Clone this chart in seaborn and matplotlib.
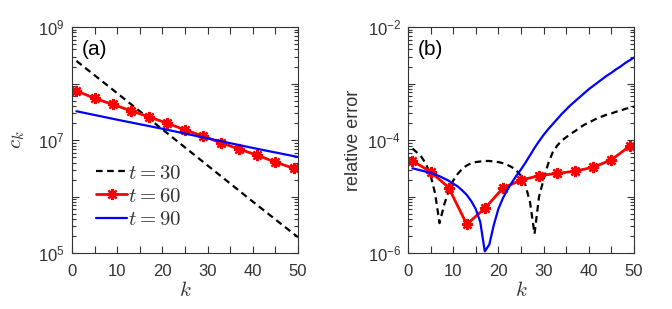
import numpy as np
import pandas as pd
import matplotlib
matplotlib.use('Agg')
import matplotlib.pyplot as plt
import matplotlib.ticker as mticker
import seaborn as sns

# %%
# panel (a): c_k as log10 values
k_a = [1, 10, 20, 30, 40, 50]
ck_t30 = [8.40, 7.83, 7.19, 6.55, 5.91, 5.28]
ck_t90 = [7.51, 7.36, 7.20, 7.03, 6.86, 6.70]
k_red = [1, 5, 9, 13, 17, 21, 25, 29, 33, 37, 41, 45, 49]
ck_t60 = [7.87, 7.74, 7.63, 7.52, 7.41, 7.30, 7.18, 7.07, 6.95, 6.84, 6.73, 6.61, 6.50]

# panel (b): relative error, log10 values
k_b = list(range(1, 51))
err_t30 = [-4.15, -4.22, -4.30, -4.42, -4.62, -4.94, -5.47, -5.15, -4.90, -4.72,
           -4.60, -4.51, -4.45, -4.41, -4.39, -4.38, -4.37, -4.37, -4.38, -4.39,
           -4.41, -4.44, -4.48, -4.54, -4.63, -4.80, -5.10, -5.66, -5.00, -4.70,
           -4.42, -4.22, -4.10, -4.01, -3.95, -3.89, -3.84, -3.78, -3.73, -3.69,
           -3.65, -3.61, -3.58, -3.55, -3.53, -3.50, -3.48, -3.45, -3.43, -3.41]
err_t90 = [-4.50, -4.52, -4.54, -4.56, -4.58, -4.61, -4.64, -4.68, -4.72, -4.77,
           -4.82, -4.89, -4.97, -5.08, -5.22, -5.45, -5.97, -5.85, -5.50, -5.22,
           -5.03, -4.88, -4.75, -4.63, -4.52, -4.40, -4.27, -4.14, -4.02, -3.91,
           -3.81, -3.72, -3.63, -3.54, -3.46, -3.38, -3.31, -3.24, -3.17, -3.10,
           -3.04, -2.98, -2.92, -2.86, -2.81, -2.75, -2.70, -2.64, -2.59, -2.54]
err_t60 = [-4.37, -4.56, -4.84, -5.49, -5.21, -4.85, -4.71, -4.63, -4.59, -4.55,
           -4.48, -4.35, -4.11]

labels = [r'$t = 30$', r'$t = 60$', r'$t = 90$']

# %%
sns.set_style('ticks')
plt.rcParams['font.family'] = ['Liberation Sans', 'DejaVu Sans']
plt.rcParams['mathtext.fontset'] = 'cm'
plt.rcParams['xtick.direction'] = 'in'
plt.rcParams['ytick.direction'] = 'in'

grey = '#333333'
star = (8, 2, 0)  # asterisk marker like MATLAB '*'
fig = plt.figure(figsize=(6.72, 3.09), dpi=100)
ax1 = fig.add_axes([0.107, 0.181, 0.3365, 0.7316])
ax2 = fig.add_axes([0.607, 0.181, 0.3365, 0.7316])


def log_label(v, pos):
    e = int(round(np.log10(v)))
    if e % 2 != 0:
        return ''
    return r'$\mathregular{10^{%d}}$' % e


def log_label_odd(v, pos):
    e = int(round(np.log10(v)))
    if e % 2 == 0:
        return ''
    return r'$\mathregular{10^{%d}}$' % e


def style(ax, ylim, fmt):
    ax.set_yscale('log')
    ax.set_xlim(0, 50)
    ax.set_ylim(*ylim)
    ax.xaxis.set_major_locator(mticker.MultipleLocator(10))
    ax.xaxis.set_minor_locator(mticker.MultipleLocator(5))
    ax.yaxis.set_major_locator(mticker.LogLocator(base=10, numticks=20))
    ax.yaxis.set_minor_locator(mticker.LogLocator(base=10, subs=np.arange(2, 10), numticks=20))
    ax.yaxis.set_major_formatter(mticker.FuncFormatter(fmt))
    ax.yaxis.set_minor_formatter(mticker.NullFormatter())
    ax.tick_params(which='both', top=True, right=True, colors=grey, labelsize=12, width=0.8)
    ax.tick_params(which='major', length=5)
    ax.tick_params(which='minor', length=3)
    ax.tick_params(axis='x', which='both', length=5, pad=8)
    ax.tick_params(axis='y', which='both', pad=5)
    for s in ax.spines.values():
        s.set_color(grey)
        s.set_linewidth(0.8)
    ax.set_xlabel(r'$k$', fontsize=15, color=grey, labelpad=1)


def fix_markers(ax, idx):
    ln = ax.lines[idx]
    ln.set_marker(star)
    ln.set_markersize(8)
    ln.set_markeredgewidth(1.7)
    ln.set_markeredgecolor('#ff0000')


# (a)
sns.lineplot(x=k_a, y=10 ** np.array(ck_t30), ax=ax1, color='black', lw=1.6,
             linestyle=(0, (3, 2)), label=labels[0])
sns.lineplot(x=k_red, y=10 ** np.array(ck_t60), ax=ax1, color='#ff0000', lw=2,
             marker='o', label=labels[1])
sns.lineplot(x=k_a, y=10 ** np.array(ck_t90), ax=ax1, color='#0000ff', lw=1.6, label=labels[2])
fix_markers(ax1, 1)
style(ax1, (1e5, 1e9), log_label_odd)
ax1.set_ylabel(r'$c_k$', fontsize=15, color=grey, labelpad=8)
ax1.text(0.045, 0.875, '(a)', transform=ax1.transAxes, fontsize=15, color='black')
leg = ax1.legend(loc='lower left', bbox_to_anchor=(0.07, 0.07), frameon=False,
                 fontsize=15, handlelength=1.5, handletextpad=0.05, labelspacing=0.2,
                 borderaxespad=0)
for t in leg.get_texts():
    t.set_color(grey)
for h in leg.legend_handles:
    if h.get_color() == '#ff0000':
        h.set_marker(star)
        h.set_markeredgewidth(1.7)

# (b)
sns.lineplot(x=k_b, y=10 ** np.array(err_t30), ax=ax2, color='black', lw=1.6,
             linestyle=(0, (3, 2)), legend=False)
sns.lineplot(x=k_red, y=10 ** np.array(err_t60), ax=ax2, color='#ff0000', lw=2,
             marker='o', legend=False)
sns.lineplot(x=k_b, y=10 ** np.array(err_t90), ax=ax2, color='#0000ff', lw=1.6, legend=False)
fix_markers(ax2, 1)
style(ax2, (1e-6, 1e-2), log_label)
ax2.set_ylabel('relative error', fontsize=13, color=grey, labelpad=4)
ax2.text(0.045, 0.875, '(b)', transform=ax2.transAxes, fontsize=15, color='black')

fig.savefig('out.png', dpi=100)
